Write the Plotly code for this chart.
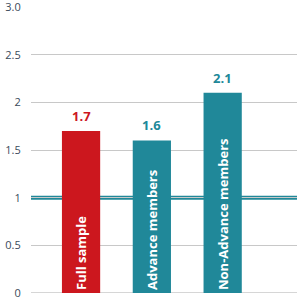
import plotly.graph_objects as go

categories = ["Full sample", "Advance members", "Non-Advance members"]
values = [1.7, 1.6, 2.1]
value_labels = ["1.7", "1.6", "2.1"]
colors = ["#cc171e", "#208899"]
bar_colors = [colors[0], colors[1], colors[1]]
tick_vals = [0, 0.5, 1, 1.5, 2, 2.5, 3]
tick_text = ["0", "0.5", "1", "1.5", "2", "2.5", "3.0"]
reference_line = 1

xs = list(range(len(categories)))
fig = go.Figure()
fig.add_trace(go.Bar(
    x=xs, y=values, width=0.54,
    marker=dict(color=bar_colors, line=dict(width=0)),
    text=categories, textposition="inside", insidetextanchor="start",
    textangle=-90, textfont=dict(color="white", size=13, family="Open Sans", weight="bold"),
    hoverinfo="skip",
))
for x, v, lab, c in zip(xs, values, value_labels, bar_colors):
    fig.add_annotation(x=x, y=v, text=f"<b>{lab}</b>", showarrow=False,
                       yanchor="bottom", yshift=4,
                       font=dict(color=c, size=13, family="Open Sans"))
fig.update_layout(
    width=297, height=300, margin=dict(l=31, r=0, t=7, b=7, autoexpand=False),
    plot_bgcolor="white", paper_bgcolor="white", showlegend=False,
    xaxis=dict(range=[-0.707, 3.05], showticklabels=False, showgrid=False, zeroline=False),
    yaxis=dict(range=[0, 3], tickmode="array", tickvals=tick_vals, ticktext=tick_text,
               showgrid=True, gridcolor="#c8c8c8", gridwidth=1,
               zeroline=False, ticklabeloverflow="allow",
               ticks="outside", ticklen=7, tickcolor="rgba(0,0,0,0)",
               tickfont=dict(color="#3a4a5a", size=11, family="Open Sans")),
)
fig.add_shape(type="line", xref="paper", x0=0, x1=1, y0=reference_line, y1=reference_line,
              line=dict(color="#208899", width=4), layer="between")
fig.add_shape(type="line", xref="paper", x0=0, x1=1, y0=0, y1=0,
              line=dict(color="#d6d6d6", width=2), layer="below")
fig.write_html("out.html")
